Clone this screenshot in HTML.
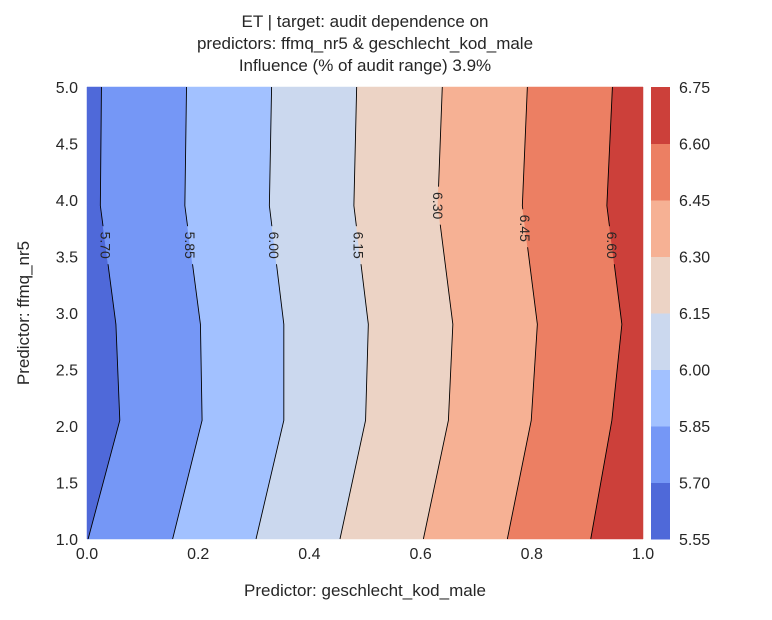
<!DOCTYPE html>
<html><head><meta charset="utf-8"><style>
body{margin:0;background:#fff;}
svg text{font-family:"Liberation Sans",Arial,sans-serif;fill:#262626;}
</style></head><body>
<svg id="chart" width="772" height="615" viewBox="0 0 772 615" xmlns="http://www.w3.org/2000/svg">
<defs><mask id="lblmask" maskUnits="userSpaceOnUse" x="0" y="0" width="772" height="615"><rect x="0" y="0" width="772" height="615" fill="#fff"/><g id="maskholes"></g></mask></defs>
<g>
<text x="365" y="27" font-size="17" text-anchor="middle">ET | target: audit dependence on</text>
<text x="365" y="49" font-size="17" text-anchor="middle">predictors: ffmq_nr5 &amp; geschlecht_kod_male</text>
<text x="365" y="71" font-size="17" text-anchor="middle">Influence (% of audit range) 3.9%</text>
</g>
<g id="plot"></g>
<g id="clines" mask="url(#lblmask)"></g>
<g id="clabels"></g>
<g id="axes"></g>
<g id="cbar"></g>
<text x="365" y="596" font-size="17" text-anchor="middle">Predictor: geschlecht_kod_male</text>
<text transform="translate(29,313) rotate(-90)" font-size="17" text-anchor="middle">Predictor: ffmq_nr5</text>
</svg>
<script>
const levels=[5.55,5.70,5.85,6.00,6.15,6.30,6.45,6.60,6.75];
const levelLabels=["5.55","5.70","5.85","6.00","6.15","6.30","6.45","6.60","6.75"];
const colors=["#4f69d9","#7597f6","#a2c1ff","#cbd8ee","#ecd3c5","#f6b194","#ec7f63","#cc403a"];
const lineY=[5,3.95,2.9,2.05,1];
const line570=[0.026,0.024,0.052,0.059,0.002];
const line585=[0.179,0.176,0.204,0.207,0.154];
const line600=[0.332,0.328,0.354,0.354,0.304];
const line615=[0.485,0.480,0.506,0.501,0.455];
const line630=[0.639,0.631,0.658,0.650,0.605];
const line645=[0.792,0.783,0.810,0.799,0.756];
const line660=[0.945,0.935,0.962,0.944,0.906];
const labelY=[3.6,3.6,3.6,3.6,3.95,3.75,3.6];
const xTicks=[0,0.2,0.4,0.6,0.8,1.0];
const xTickLabels=["0.0","0.2","0.4","0.6","0.8","1.0"];
const yTicks=[1,1.5,2,2.5,3,3.5,4,4.5,5];
const yTickLabels=["1.0","1.5","2.0","2.5","3.0","3.5","4.0","4.5","5.0"];

const L=87,R=643,T=87,B=539;
const sx=v=>L+v*(R-L);
const sy=v=>B-(v-1)/4*(B-T);
const NS="http://www.w3.org/2000/svg";
function mk(tag,attrs,parent){const e=document.createElementNS(NS,tag);for(const k in attrs)e.setAttribute(k,attrs[k]);parent.appendChild(e);return e;}
const plot=document.getElementById('plot'),axes=document.getElementById('axes'),cbar=document.getElementById('cbar');
const clines=document.getElementById('clines'),clabels=document.getElementById('clabels'),holes=document.getElementById('maskholes');
const lines=[line570,line585,line600,line615,line630,line645,line660];
const leftEdge=lineY.map(()=>0), rightEdge=lineY.map(()=>1);
const bounds=[leftEdge,...lines,rightEdge];
function interpX(arr,y){for(let i=0;i<lineY.length-1;i++){const a=lineY[i],b=lineY[i+1];if(y<=a&&y>=b){const t=(a-y)/(a-b);return arr[i]+t*(arr[i+1]-arr[i]);}}return arr[0];}
for(let i=0;i<colors.length;i++){
  const a=bounds[i],b=bounds[i+1];
  let pts=lineY.map((y,k)=>sx(a[k])+","+sy(y));
  pts=pts.concat(lineY.map((y,k)=>sx(b[k])+","+sy(y)).reverse());
  const p=mk('polygon',{points:pts.join(' '),fill:colors[i],stroke:colors[i],'stroke-width':0.5},plot);
  
  
}
lines.forEach((ln,i)=>{
  const ly=labelY[i];
  const p=mk('polyline',{points:lineY.map((y,k)=>sx(ln[k])+","+sy(y)).join(' '),fill:'none',stroke:'#000','stroke-width':0.9},clines);
  
  
  const cx=sx(interpX(ln,ly)),cy=sy(ly);
  mk('rect',{x:cx-8,y:cy-19,width:16,height:38,fill:'#000'},holes);
  const t=mk('text',{x:0,y:0,'font-size':14,'text-anchor':'middle','dominant-baseline':'central',transform:`translate(${cx},${cy}) rotate(90)`},clabels);
  t.textContent=levelLabels[i+1];
  
  
});
xTicks.forEach((v,i)=>{const t=mk('text',{x:sx(v),y:B+20,'font-size':16,'text-anchor':'middle'},axes);t.textContent=xTickLabels[i];

});
yTicks.forEach((v,i)=>{const t=mk('text',{x:L-9,y:sy(v)+6,'font-size':16,'text-anchor':'end'},axes);t.textContent=yTickLabels[i];

});
const CL=651,CR=670;
const cy=v=>B-(v-levels[0])/(levels[levels.length-1]-levels[0])*(B-T);
for(let i=0;i<colors.length;i++){
  const r=mk('rect',{x:CL,y:cy(levels[i+1]),width:CR-CL,height:cy(levels[i])-cy(levels[i+1])+0.5,fill:colors[i]},cbar);
  
  
}
levels.forEach((v,i)=>{const t=mk('text',{x:CR+9,y:cy(v)+6,'font-size':16},cbar);t.textContent=levelLabels[i];

});
</script>
</body></html>
